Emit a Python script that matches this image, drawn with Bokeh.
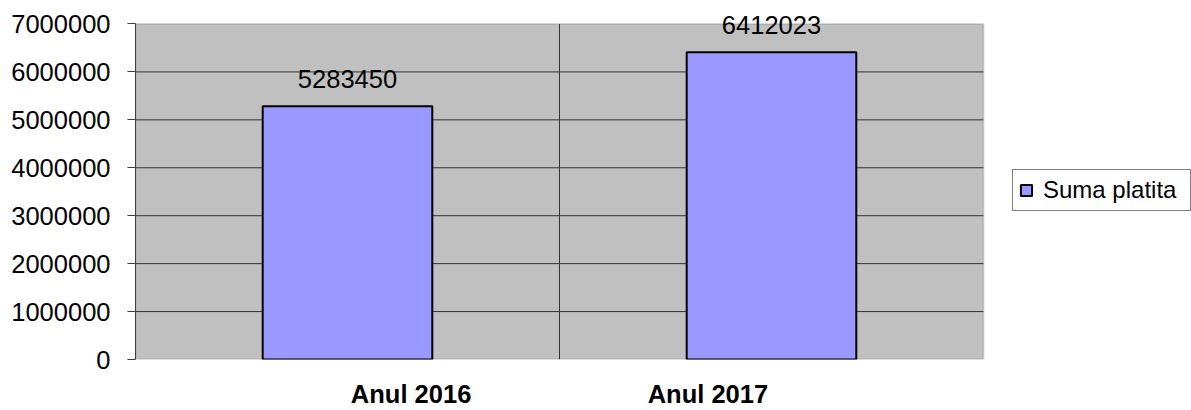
from bokeh.plotting import figure
from bokeh.models import (ColumnDataSource, FixedTicker, BasicTickFormatter, Legend, LegendItem,
                          Range1d, LabelSet, BoxAnnotation)
from bokeh.core.properties import value
from bokeh.embed import file_html
from bokeh.resources import INLINE

categories = ["Anul 2016", "Anul 2017"]
values = [5283450, 6412023]
series_name = "Suma platita"
y_ticks = [0, 1000000, 2000000, 3000000, 4000000, 5000000, 6000000, 7000000]

FONT = "Liberation Sans"
FS = "25.5px"
BAR_FILL = "#9999FF"
GRID = "#333333"

n = len(categories)
y_top = y_ticks[-1]
xs = [i + 0.5 for i in range(n)]
# category labels sit a little towards the middle of the chart, as in the reference
label_xs = [x + (n / 2 - x) * 0.3 for x in xs]
src = ColumnDataSource(dict(x=xs, top=values, lbl=[str(v) for v in values]))

# the frame covers the whole canvas right of the y axis; the grey plot area is a box inside it
p = figure(width=1191, height=410, output_backend="svg", toolbar_location=None,
           x_range=Range1d(0, n * 1.2453), y_range=Range1d(0, y_top * 1.07),
           min_border_left=135, min_border_right=0, min_border_top=0, min_border_bottom=50)
p.border_fill_color = "white"
p.background_fill_color = "white"
p.outline_line_color = None
p.grid.visible = False

area = BoxAnnotation(left=0, right=n, bottom=0, top=y_top, fill_color="#C0C0C0", fill_alpha=1,
                     line_color="#808080", line_width=2, level="image")
p.add_layout(area)

# grid lines inside the plot area
inner = y_ticks[1:-1]
p.segment(x0=[0] * len(inner), x1=[n] * len(inner), y0=inner, y1=inner,
          line_color=GRID, line_width=1)
seps = list(range(1, n))
p.segment(x0=seps, x1=seps, y0=[0] * len(seps), y1=[y_top] * len(seps),
          line_color=GRID, line_width=1)

r = p.vbar(x="x", top="top", width=0.4, bottom=0, source=src,
           fill_color=BAR_FILL, line_color="black", line_width=2)

labels = LabelSet(x="x", y="top", text="lbl", source=src, text_align="center",
                  text_baseline="alphabetic", y_offset=18, text_font=value(FONT),
                  text_font_size=value(FS), text_color="black")
p.add_layout(labels)

# y axis
p.yaxis.ticker = FixedTicker(ticks=y_ticks)
p.yaxis.bounds = (0, y_top)
p.yaxis.formatter = BasicTickFormatter(use_scientific=False)
p.yaxis.major_label_text_font = FONT
p.yaxis.major_label_text_font_size = FS
p.yaxis.major_label_text_color = "black"
p.yaxis.axis_line_color = "#404040"
p.yaxis.major_tick_line_color = "#404040"
p.yaxis.major_tick_out = 8
p.yaxis.major_tick_in = 0
p.yaxis.minor_tick_line_color = None
p.yaxis.major_label_standoff = 17

# x axis
p.xaxis.ticker = FixedTicker(ticks=label_xs)
p.xaxis.major_label_overrides = {x: c for x, c in zip(label_xs, categories)}
p.xaxis.major_label_text_font = FONT
p.xaxis.major_label_text_font_size = FS
p.xaxis.major_label_text_font_style = "bold"
p.xaxis.major_label_text_color = "black"
p.xaxis.axis_line_color = None
p.xaxis.major_tick_line_color = None
p.xaxis.minor_tick_line_color = None
p.xaxis.major_tick_out = 0
p.xaxis.major_label_standoff = 20

legend = Legend(items=[LegendItem(label=series_name, renderers=[r])],
                location=(877, 148), orientation="vertical")
legend.label_text_font = FONT
legend.label_text_font_size = "24px"
legend.label_text_color = "black"
legend.glyph_width = 14
legend.glyph_height = 14
legend.label_standoff = 10
legend.label_width = 141
legend.padding = 6
legend.margin = 0
legend.border_line_color = "black"
legend.border_line_width = 1
legend.background_fill_color = "white"
legend.background_fill_alpha = 1
p.add_layout(legend)

open("out.html", "w").write(file_html(p, INLINE))
